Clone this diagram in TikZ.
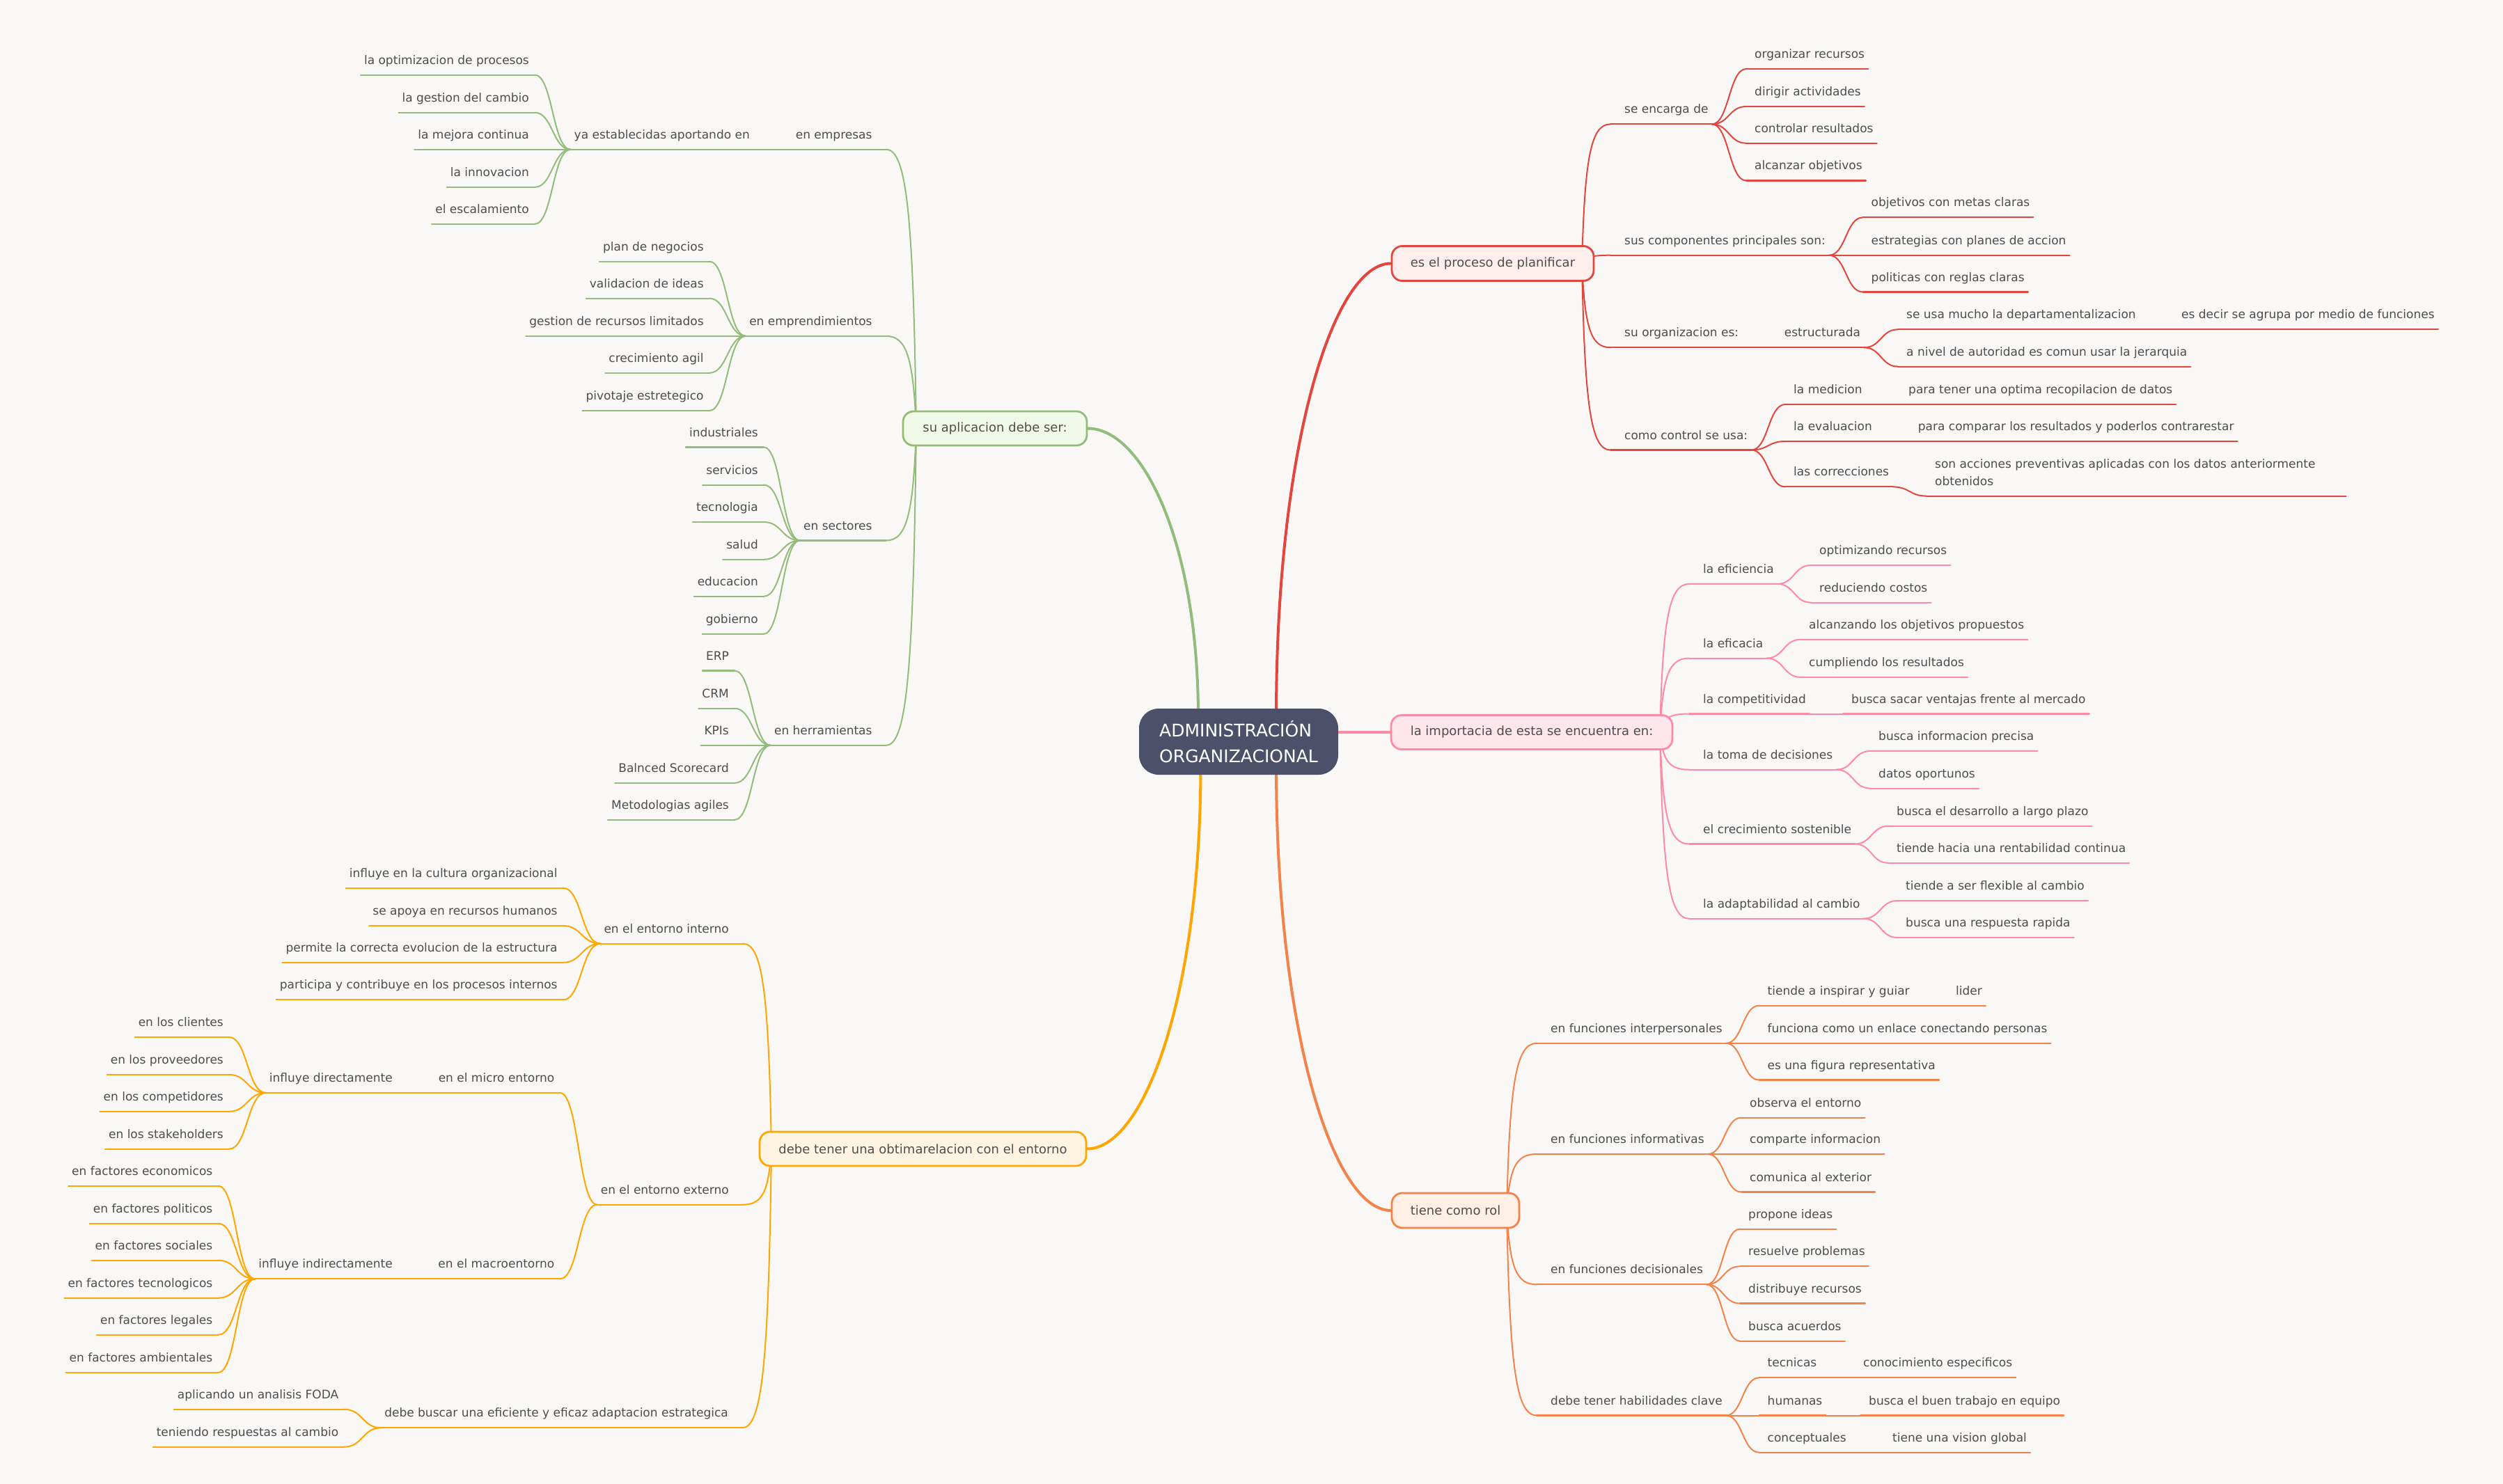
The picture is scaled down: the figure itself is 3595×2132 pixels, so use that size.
\documentclass[tikz,border=0pt]{standalone}
\usepackage{fontspec}
\setmainfont{DejaVu Sans}
\usetikzlibrary{calc}
\definecolor{bgc}{HTML}{F9F8F6}
\definecolor{txt}{HTML}{4D4D4D}
\definecolor{rd}{HTML}{E2463D}
\definecolor{rdf}{HTML}{FEEFED}
\definecolor{pk}{HTML}{FF8AA6}
\definecolor{pkf}{HTML}{FFE6EC}
\definecolor{org}{HTML}{F3834A}
\definecolor{orgf}{HTML}{FFEFE5}
\definecolor{gr}{HTML}{93BB7B}
\definecolor{grf}{HTML}{F1F9E8}
\definecolor{yl}{HTML}{FFA600}
\definecolor{ylf}{HTML}{FFF4E2}
\definecolor{rootc}{HTML}{4C5069}
\pgfdeclarelayer{bgl}
\pgfdeclarelayer{conl}
\pgfsetlayers{bgl,conl,main}
\tikzset{
  lbl/.style={font=\fontsize{17}{20}\selectfont, text=txt, inner sep=0pt},
  ul/.style={line width=2.1pt, line cap=round},
  cn/.style={line width=2.0pt, line cap=round},
  thk/.style={line width=4pt, line cap=round},
  bx/.style={rounded corners=15pt, line width=2.8pt, inner sep=0pt, font=\fontsize{18}{22}\selectfont, text=txt},
}
% right-side item: [attach offset]{name}{colour}{text left x}{line y}{text}
\newcommand\mmRI[6][12]{%
  \node[lbl,anchor=base west] (#2) at (#4,#5-15.5) {#6};
  \coordinate (#2-a) at (#4-#1,#5);
  \path (#2.east |- #2-a) ++(5,0) coordinate (#2-b);
  \draw[ul,#3] (#2-a) -- (#2-b);}
% left-side item: [attach offset]{name}{colour}{text right x}{line y}{text}
\newcommand\mmLI[6][8]{%
  \node[lbl,anchor=base east] (#2) at (#4,#5-15.5) {#6};
  \coordinate (#2-a) at (#4+#1,#5);
  \path (#2.west |- #2-a) ++(-5,0) coordinate (#2-b);
  \draw[ul,#3] (#2-b) -- (#2-a);}
% connectors
\newcommand\mmS[3]{\draw[cn,#1] let \p1=(#2), \p2=(#3) in (\p1) .. controls ({(\x1+\x2)/2},\y1) and ({(\x1+\x2)/2},\y2) .. (\p2);}
\newcommand\mmB[3]{\draw[cn,#1] let \p1=(#2), \p2=(#3) in (\p1) .. controls ({\x1+0.1*(\x2-\x1)},{\y1+0.75*(\y2-\y1)}) and ({\x1+0.3*(\x2-\x1)},\y2) .. (\p2);}
\newcommand\mmR[3]{\draw[thk,#1] let \p1=(#2), \p2=(#3) in (\p1) .. controls (\x1,{\y1+0.6*(\y2-\y1)}) and ({\x1+0.5*(\x2-\x1)},\y2) .. (\p2);}

\begin{document}
\begin{tikzpicture}[x=1pt,y=-1pt]
\useasboundingbox (0,0) rectangle (3595,2132);
\begin{pgfonlayer}{bgl}
\fill[bgc] (0,0) rectangle (3595,2132);
\end{pgfonlayer}

% ---------------- central node and main boxes ----------------
\node[fill=rootc, rounded corners=28pt, minimum width=286pt, minimum height=95pt, inner sep=0pt,
      text=white, font=\fontsize{25}{37}\selectfont, align=left] (root) at (1779,1065.5) {ADMINISTRACIÓN\\ORGANIZACIONAL};
\node[bx, draw=rd, fill=rdf, minimum width=290pt, minimum height=50pt] (rbox) at (2144,378.5) {es el proceso de planificar};
\node[bx, draw=pk, fill=pkf, minimum width=404pt, minimum height=49pt] (pbox) at (2200,1052) {la importacia de esta se encuentra en:};
\node[bx, draw=org, fill=orgf, minimum width=183pt, minimum height=50pt] (obox) at (2090.5,1739) {tiene como rol};
\node[bx, draw=gr, fill=grf, minimum width=264pt, minimum height=49pt] (gbox) at (1429,615.5) {su aplicacion debe ser:};
\node[bx, draw=yl, fill=ylf, minimum width=469pt, minimum height=49pt] (ybox) at (1325.5,1650.5) {debe tener una obtimarelacion con el entorno};

\coordinate (rt-g) at (1721,1030);
\coordinate (rt-r) at (1833,1030);
\coordinate (rt-y) at (1724.5,1100);
\coordinate (rt-o) at (1833,1100);
\coordinate (rt-p) at (1910,1052);
\coordinate (rbox-o) at (2272,379);
\coordinate (pbox-o) at (2384,1052);
\coordinate (obox-o) at (2164,1739);
\coordinate (gbox-o) at (1316,616);
\coordinate (ybox-o) at (1108,1650.5);

% ---------------- red branch ----------------
\mmRI[20]{r1}{rd}{2333}{178.4}{se encarga de}
\mmRI[20]{r2}{rd}{2333}{366.7}{sus componentes principales son:}
\mmRI[20]{r3}{rd}{2333}{499.3}{su organizacion es:}
\mmRI[20]{r4}{rd}{2333}{646.5}{como control se usa:}
\mmRI{r1a}{rd}{2520}{99}{organizar recursos}
\mmRI{r1b}{rd}{2520}{153}{dirigir actividades}
\mmRI{r1c}{rd}{2520}{205.7}{controlar resultados}
\mmRI{r1d}{rd}{2520}{259.5}{alcanzar objetivos}
\mmRI{r2a}{rd}{2687.5}{312.4}{objetivos con metas claras}
\mmRI{r2b}{rd}{2687.5}{366.7}{estrategias con planes de accion}
\mmRI{r2c}{rd}{2687.5}{419.5}{politicas con reglas claras}
\mmRI{r3a}{rd}{2562.7}{499.3}{estructurada}
\mmRI{r3b}{rd}{2738}{473.3}{se usa mucho la departamentalizacion}
\mmRI{r3c}{rd}{3133}{473.3}{es decir se agrupa por medio de funciones}
\mmRI{r3d}{rd}{2738}{526.6}{a nivel de autoridad es comun usar la jerarquia}
\mmRI{r4a}{rd}{2576}{581}{la medicion}
\mmRI{r4b}{rd}{2741}{581}{para tener una optima recopilacion de datos}
\mmRI{r4c}{rd}{2576}{634}{la evaluacion}
\mmRI{r4d}{rd}{2754.7}{634}{para comparar los resultados y poderlos contrarestar}
\mmRI{r4e}{rd}{2576}{699.4}{las correcciones}
\node[lbl,anchor=base west] (r4f) at (2779,672) {son acciones preventivas aplicadas con los datos anteriormente};
\node[lbl,anchor=base west] (r4g) at (2779,697) {obtenidos};
\coordinate (r4f-a) at (2767,712.6);
\coordinate (r4f-b) at (3369.5,712.6);
\draw[ul,rd] (r4f-a) -- (r4f-b);

% ---------------- pink branch ----------------
\mmRI[20]{p1}{pk}{2446}{838.9}{la eficiencia}
\mmRI[20]{p2}{pk}{2446}{945.6}{la eficacia}
\mmRI[20]{p3}{pk}{2446}{1025.5}{la competitividad}
\mmRI{p3x}{pk}{2659}{1025.5}{busca sacar ventajas frente al mercado}
\mmRI[20]{p4}{pk}{2446}{1105.7}{la toma de decisiones}
\mmRI[20]{p5}{pk}{2446}{1212.5}{el crecimiento sostenible}
\mmRI[20]{p6}{pk}{2446}{1319.7}{la adaptabilidad al cambio}
\mmRI{p1a}{pk}{2613}{812}{optimizando recursos}
\mmRI{p1b}{pk}{2613}{865.7}{reduciendo costos}
\mmRI{p2a}{pk}{2598}{918.7}{alcanzando los objetivos propuestos}
\mmRI{p2b}{pk}{2598}{972.9}{cumpliendo los resultados}
\mmRI{p4a}{pk}{2698}{1079}{busca informacion precisa}
\mmRI{p4b}{pk}{2698}{1132.6}{datos oportunos}
\mmRI{p5a}{pk}{2724}{1186.8}{busca el desarrollo a largo plazo}
\mmRI{p5b}{pk}{2724}{1239.8}{tiende hacia una rentabilidad continua}
\mmRI{p6a}{pk}{2737}{1294}{tiende a ser flexible al cambio}
\mmRI{p6b}{pk}{2737}{1347}{busca una respuesta rapida}

% ---------------- orange branch ----------------
\mmRI[20]{o1}{org}{2227}{1498.8}{en funciones interpersonales}
\mmRI[20]{o2}{org}{2227}{1658}{en funciones informativas}
\mmRI[20]{o3}{org}{2227}{1845.4}{en funciones decisionales}
\mmRI[20]{o4}{org}{2227}{2033.5}{debe tener habilidades clave}
\mmRI{o1a}{org}{2538.5}{1444.7}{tiende a inspirar y guiar}
\mmRI{o1ax}{org}{2809}{1444.7}{lider}
\mmRI{o1b}{org}{2538.5}{1498.8}{funciona como un enlace conectando personas}
\mmRI{o1c}{org}{2538.5}{1551.5}{es una figura representativa}
\mmRI{o2a}{org}{2513}{1605.7}{observa el entorno}
\mmRI{o2b}{org}{2513}{1658}{comparte informacion}
\mmRI{o2c}{org}{2513}{1712.5}{comunica al exterior}
\mmRI{o3a}{org}{2511}{1765.7}{propone ideas}
\mmRI{o3b}{org}{2511}{1819.3}{resuelve problemas}
\mmRI{o3c}{org}{2511}{1872.5}{distribuye recursos}
\mmRI{o3d}{org}{2511}{1926.6}{busca acuerdos}
\mmRI{o4a}{org}{2538.5}{1979.3}{tecnicas}
\mmRI{o4ax}{org}{2676}{1979.3}{conocimiento especificos}
\mmRI{o4b}{org}{2538.5}{2033.5}{humanas}
\mmRI{o4bx}{org}{2684}{2033.5}{busca el buen trabajo en equipo}
\mmRI{o4c}{org}{2538.5}{2086.6}{conceptuales}
\mmRI{o4cx}{org}{2718}{2086.6}{tiene una vision global}

% ---------------- green branch ----------------
\mmLI[20]{g1}{gr}{1252.7}{214.7}{en empresas}
\mmLI{g1x}{gr}{1077}{214.7}{ya establecidas aportando en}
\mmLI[20]{g2}{gr}{1252.7}{482.8}{en emprendimientos}
\mmLI[20]{g3}{gr}{1252.7}{776.5}{en sectores}
\mmLI[20]{g4}{gr}{1252.7}{1070.7}{en herramientas}
\mmLI{g1a}{gr}{760}{107.6}{la optimizacion de procesos}
\mmLI{g1b}{gr}{760}{161.7}{la gestion del cambio}
\mmLI{g1c}{gr}{760}{214.7}{la mejora continua}
\mmLI{g1d}{gr}{760}{268.9}{la innovacion}
\mmLI{g1e}{gr}{760}{321.9}{el escalamiento}
\mmLI{g2a}{gr}{1010.8}{375.6}{plan de negocios}
\mmLI{g2b}{gr}{1010.8}{428.6}{validacion de ideas}
\mmLI{g2c}{gr}{1010.8}{482.8}{gestion de recursos limitados}
\mmLI{g2d}{gr}{1010.8}{535.8}{crecimiento agil}
\mmLI{g2e}{gr}{1010.8}{590}{pivotaje estretegico}
\mmLI{g3a}{gr}{1089}{642.5}{industriales}
\mmLI{g3b}{gr}{1089}{696.6}{servicios}
\mmLI{g3c}{gr}{1089}{750}{tecnologia}
\mmLI{g3d}{gr}{1089}{803.8}{salud}
\mmLI{g3e}{gr}{1089}{856.8}{educacion}
\mmLI{g3f}{gr}{1089}{910.6}{gobierno}
\mmLI{g4a}{gr}{1047}{963.5}{ERP}
\mmLI{g4b}{gr}{1047}{1017.7}{CRM}
\mmLI{g4c}{gr}{1047}{1070.7}{KPIs}
\mmLI{g4d}{gr}{1047}{1124.9}{Balnced Scorecard}
\mmLI{g4e}{gr}{1047}{1177.8}{Metodologias agiles}

% ---------------- yellow branch ----------------
\mmLI[20]{y1}{yl}{1047}{1355.7}{en el entorno interno}
\mmLI[20]{y2}{yl}{1047}{1730.7}{en el entorno externo}
\mmLI[20]{y3}{yl}{1046}{2051.3}{debe buscar una eficiente y eficaz adaptacion estrategica}
\mmLI{y1a}{yl}{800.7}{1275.7}{influye en la cultura organizacional}
\mmLI{y1b}{yl}{800.7}{1330}{se apoya en recursos humanos}
\mmLI{y1c}{yl}{800.7}{1382.8}{permite la correcta evolucion de la estructura}
\mmLI{y1d}{yl}{800.7}{1436.4}{participa y contribuye en los procesos internos}
\mmLI{y2a}{yl}{796.4}{1570}{en el micro entorno}
\mmLI{y2ax}{yl}{564}{1570}{influye directamente}
\mmLI{y2b}{yl}{796.4}{1837.3}{en el macroentorno}
\mmLI{y2bx}{yl}{564}{1837.3}{influye indirectamente}
\mmLI{y4a}{yl}{321}{1490}{en los clientes}
\mmLI{y4b}{yl}{321}{1543.9}{en los proveedores}
\mmLI{y4c}{yl}{321}{1596.8}{en los competidores}
\mmLI{y4d}{yl}{321}{1650.7}{en los stakeholders}
\mmLI{y5a}{yl}{305.5}{1703.9}{en factores economicos}
\mmLI{y5b}{yl}{305.5}{1757.7}{en factores politicos}
\mmLI{y5c}{yl}{305.5}{1810.7}{en factores sociales}
\mmLI{y5d}{yl}{305.5}{1864.7}{en factores tecnologicos}
\mmLI{y5e}{yl}{305.5}{1917.7}{en factores legales}
\mmLI{y5f}{yl}{305.5}{1971.7}{en factores ambientales}
\mmLI{y3a}{yl}{486.4}{2024.7}{aplicando un analisis FODA}
\mmLI{y3b}{yl}{486.4}{2078.7}{teniendo respuestas al cambio}

% ---------------- connectors ----------------
\begin{pgfonlayer}{conl}
\mmR{gr}{rt-g}{gbox.east}
\mmR{rd}{rt-r}{rbox.west}
\mmR{yl}{rt-y}{ybox.east}
\mmR{org}{rt-o}{obox.west}
\draw[thk,pk] (rt-p) -- (pbox.west);

\foreach \c in {r1,r2,r3,r4} {\mmB{rd}{rbox-o}{\c-a}}
\foreach \c in {r1a,r1b,r1c,r1d} {\mmS{rd}{r1-b}{\c-a}}
\foreach \c in {r2a,r2b,r2c} {\mmS{rd}{r2-b}{\c-a}}
\mmS{rd}{r3-b}{r3a-a}
\mmS{rd}{r3a-b}{r3b-a}
\mmS{rd}{r3a-b}{r3d-a}
\mmS{rd}{r3b-b}{r3c-a}
\foreach \c in {r4a,r4c,r4e} {\mmS{rd}{r4-b}{\c-a}}
\mmS{rd}{r4a-b}{r4b-a}
\mmS{rd}{r4c-b}{r4d-a}
\mmS{rd}{r4e-b}{r4f-a}

\foreach \c in {p1,p2,p3,p4,p5,p6} {\mmB{pk}{pbox-o}{\c-a}}
\mmS{pk}{p3-b}{p3x-a}
\foreach \c in {p1a,p1b} {\mmS{pk}{p1-b}{\c-a}}
\foreach \c in {p2a,p2b} {\mmS{pk}{p2-b}{\c-a}}
\foreach \c in {p4a,p4b} {\mmS{pk}{p4-b}{\c-a}}
\foreach \c in {p5a,p5b} {\mmS{pk}{p5-b}{\c-a}}
\foreach \c in {p6a,p6b} {\mmS{pk}{p6-b}{\c-a}}

\foreach \c in {o1,o2,o3,o4} {\mmB{org}{obox-o}{\c-a}}
\foreach \c in {o1a,o1b,o1c} {\mmS{org}{o1-b}{\c-a}}
\mmS{org}{o1a-b}{o1ax-a}
\foreach \c in {o2a,o2b,o2c} {\mmS{org}{o2-b}{\c-a}}
\foreach \c in {o3a,o3b,o3c,o3d} {\mmS{org}{o3-b}{\c-a}}
\foreach \c in {o4a,o4b,o4c} {\mmS{org}{o4-b}{\c-a}}
\mmS{org}{o4a-b}{o4ax-a}
\mmS{org}{o4b-b}{o4bx-a}
\mmS{org}{o4c-b}{o4cx-a}

\foreach \c in {g1,g2,g3,g4} {\mmB{gr}{gbox-o}{\c-a}}
\mmS{gr}{g1-b}{g1x-a}
\foreach \c in {g1a,g1b,g1c,g1d,g1e} {\mmS{gr}{g1x-b}{\c-a}}
\foreach \c in {g2a,g2b,g2c,g2d,g2e} {\mmS{gr}{g2-b}{\c-a}}
\foreach \c in {g3a,g3b,g3c,g3d,g3e,g3f} {\mmS{gr}{g3-b}{\c-a}}
\foreach \c in {g4a,g4b,g4c,g4d,g4e} {\mmS{gr}{g4-b}{\c-a}}

\foreach \c in {y1,y2,y3} {\mmB{yl}{ybox-o}{\c-a}}
\foreach \c in {y1a,y1b,y1c,y1d} {\mmS{yl}{y1-b}{\c-a}}
\foreach \c in {y2a,y2b} {\mmS{yl}{y2-b}{\c-a}}
\mmS{yl}{y2a-b}{y2ax-a}
\mmS{yl}{y2b-b}{y2bx-a}
\foreach \c in {y4a,y4b,y4c,y4d} {\mmS{yl}{y2ax-b}{\c-a}}
\foreach \c in {y5a,y5b,y5c,y5d,y5e,y5f} {\mmS{yl}{y2bx-b}{\c-a}}
\foreach \c in {y3a,y3b} {\mmS{yl}{y3-b}{\c-a}}
\end{pgfonlayer}
\end{tikzpicture}
\end{document}
